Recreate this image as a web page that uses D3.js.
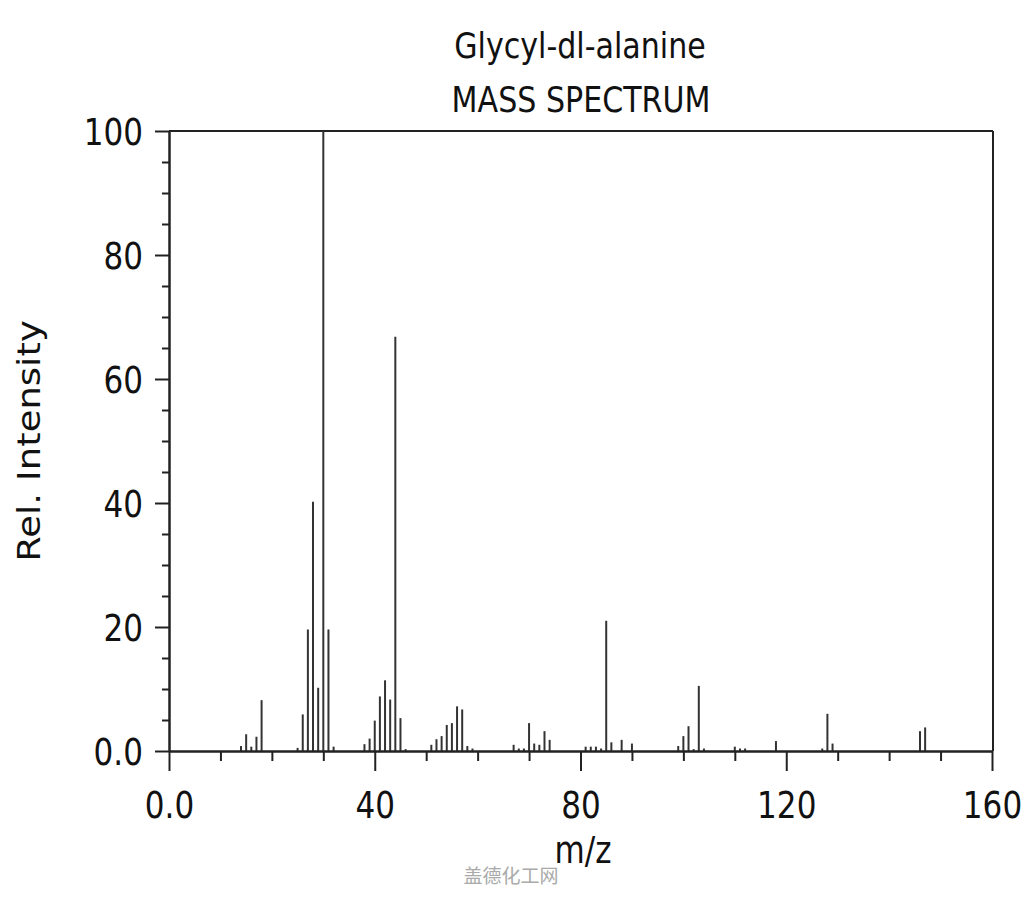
<!DOCTYPE html>
<html>
<head>
<meta charset="utf-8">
<script src="https://cdn.jsdelivr.net/npm/d3@7"></script>
<style>
  html, body { margin: 0; padding: 0; background: #fff; }
  svg { display: block; }
  text { font-family: "DejaVu Sans", sans-serif; fill: #111; }
</style>
</head>
<body>
<svg id="chart" width="1024" height="900"></svg>
<script>
// ---- Data ----
const title = "Glycyl-dl-alanine";
const subtitle = "MASS SPECTRUM";
const xLabel = "m/z";
const yLabel = "Rel. Intensity";
const watermark = "盖德化工网";

const mz = [14, 15, 16, 17, 18,
            25, 26, 27, 28, 29, 30, 31, 32,
            38, 39, 40, 41, 42, 43, 44, 45, 46,
            51, 52, 53, 54, 55, 56, 57, 58, 59,
            67, 68, 69, 70, 71, 72, 73, 74,
            81, 82, 83, 84, 85, 86, 88, 90,
            99, 100, 101, 102, 103, 104,
            110, 111, 112, 118,
            127, 128, 129,
            146, 147];
const intensity = [0.8, 2.7, 0.7, 2.3, 8.2,
            0.5, 5.9, 19.6, 40.2, 10.2, 100, 19.6, 0.7,
            1.1, 2.0, 4.9, 8.8, 11.4, 8.3, 66.8, 5.3, 0.3,
            1.0, 1.9, 2.4, 4.2, 4.5, 7.2, 6.7, 0.8, 0.4,
            1.0, 0.4, 0.4, 4.5, 1.2, 1.0, 3.2, 1.8,
            0.7, 0.7, 0.7, 0.4, 21.0, 1.4, 1.8, 1.2,
            0.8, 2.4, 4.0, 0.3, 10.5, 0.4,
            0.7, 0.4, 0.4, 1.6,
            0.4, 6.0, 1.2,
            3.2, 3.8];

const xMajorTicks = [0, 40, 80, 120, 160];
const xMajorLabels = ["0.0", "40", "80", "120", "160"];
const xMinorTicks = [10, 20, 30, 50, 60, 70, 90, 100, 110, 130, 140, 150];
const yMajorTicks = [0, 20, 40, 60, 80, 100];
const yMajorLabels = ["0.0", "20", "40", "60", "80", "100"];
const yMinorTicks = [5, 10, 15, 25, 30, 35, 45, 50, 55, 65, 70, 75, 85, 90, 95];

// ---- Layout ----
const svg = d3.select("#chart");
const mLeft = 169, mRight = 992, mTop = 131, mBottom = 751;
const sx = 0.84; // horizontal squeeze of the reference text
const ink = "#222";

const x = d3.scaleLinear().domain([0, 160]).range([mLeft, mRight]);
const y = d3.scaleLinear().domain([0, 100]).range([mBottom, mTop]);

// Frame (top and right)
svg.append("line").attr("x1", mLeft).attr("x2", mRight + 1).attr("y1", mTop).attr("y2", mTop)
  .attr("stroke", ink).attr("stroke-width", 2);
svg.append("line").attr("x1", mRight + 1).attr("x2", mRight + 1).attr("y1", mTop).attr("y2", mBottom)
  .attr("stroke", ink).attr("stroke-width", 2);

// Bars
svg.append("g").selectAll("line").data(mz).join("line")
  .attr("x1", d => x(d)).attr("x2", d => x(d))
  .attr("y1", y(0)).attr("y2", (d, i) => y(intensity[i]))
  .attr("stroke", "#333").attr("stroke-width", 2);

// X axis
const gxMinor = svg.append("g").attr("transform", `translate(0,${mBottom})`)
  .call(d3.axisBottom(x).tickValues(xMinorTicks).tickSize(10).tickSizeOuter(0).tickFormat(""));
const gx = svg.append("g").attr("transform", `translate(0,${mBottom})`)
  .call(d3.axisBottom(x).tickValues(xMajorTicks).tickSize(20).tickSizeOuter(0)
    .tickFormat((d, i) => xMajorLabels[i]));
[gxMinor, gx].forEach(g => {
  g.select(".domain").attr("stroke", ink).attr("stroke-width", 2);
  g.selectAll(".tick line").attr("stroke", ink).attr("stroke-width", 2);
});
gx.selectAll(".tick text")
  .attr("y", 67).attr("dy", 0)
  .attr("font-size", 37).attr("font-family", "DejaVu Sans, sans-serif").attr("fill", "#111")
  .attr("transform", `scale(${sx},1)`);

// Y axis
const gyMinor = svg.append("g").attr("transform", `translate(${mLeft},0)`)
  .call(d3.axisLeft(y).tickValues(yMinorTicks).tickSize(7).tickSizeOuter(0).tickFormat(""));
const gy = svg.append("g").attr("transform", `translate(${mLeft},0)`)
  .call(d3.axisLeft(y).tickValues(yMajorTicks).tickSize(14).tickSizeOuter(0)
    .tickFormat((d, i) => yMajorLabels[i]));
[gyMinor, gy].forEach(g => {
  g.select(".domain").attr("stroke", ink).attr("stroke-width", 2);
  g.selectAll(".tick line").attr("stroke", ink).attr("stroke-width", 2);
});
gy.selectAll(".tick text")
  .attr("x", -26 / sx).attr("dy", "0.36em")
  .attr("font-size", 37).attr("font-family", "DejaVu Sans, sans-serif").attr("fill", "#111")
  .attr("transform", `scale(${sx},1)`);

// Titles
svg.append("text").attr("transform", `translate(580,58) scale(0.86,1)`)
  .attr("text-anchor", "middle").attr("font-size", 35).text(title);
svg.append("text").attr("transform", `translate(581,112) scale(0.86,1)`)
  .attr("text-anchor", "middle").attr("font-size", 35).text(subtitle);

// Axis labels
svg.append("text").attr("transform", `translate(583,863) scale(${sx},1)`)
  .attr("text-anchor", "middle").attr("font-size", 37).text(xLabel);
svg.append("text").attr("transform", `translate(40,441) scale(${sx},1) rotate(-90)`)
  .attr("text-anchor", "middle").attr("font-size", 37).text(yLabel);

// Watermark
svg.append("text").attr("x", 511).attr("y", 883)
  .attr("text-anchor", "middle").attr("font-size", 19)
  .style("font-family", "'Noto Sans CJK SC', sans-serif")
  .style("fill", "#aaa").text(watermark);
</script>
</body>
</html>
